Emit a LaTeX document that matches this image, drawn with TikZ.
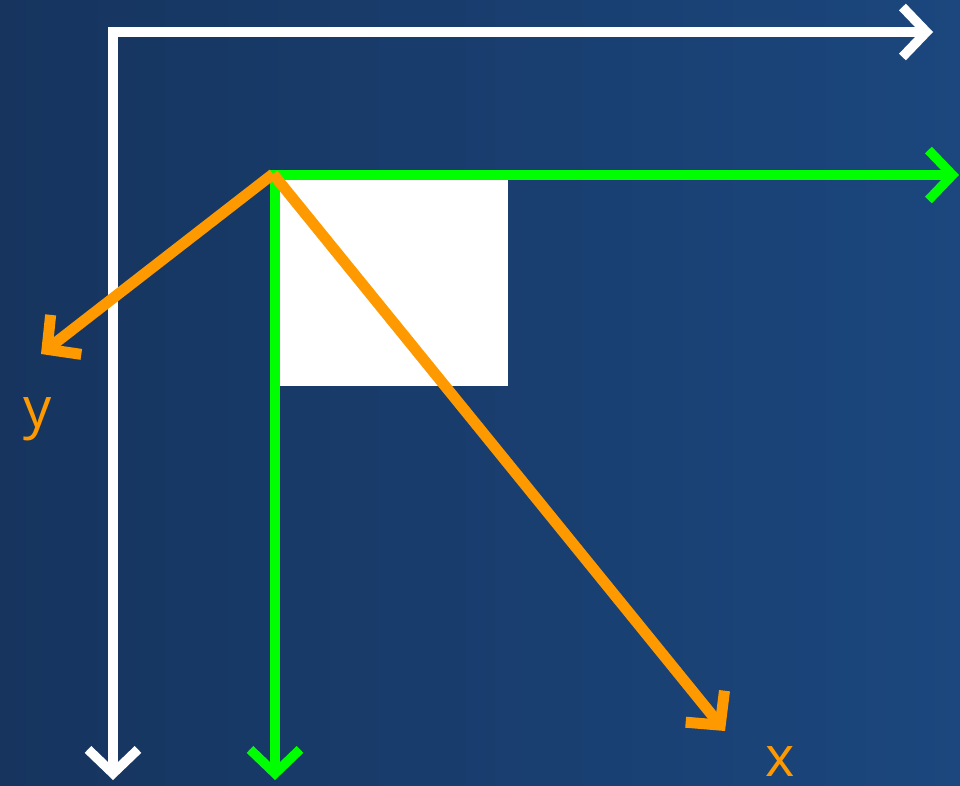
\documentclass[tikz,border=0pt]{standalone}
\usepackage{fontspec}
\setmainfont{Open Sans}
\usetikzlibrary{arrows.meta}
\definecolor{bgA}{HTML}{16345E}
\definecolor{bgB}{HTML}{1B477E}
\definecolor{axorange}{HTML}{FF9900}
\definecolor{axgreen}{HTML}{00FF00}
\tikzset{
  chev/.tip={Straight Barb[length=24pt,width=50pt,sharp]},
  axiswhite/.style={draw=white,line width=9.5pt,miter limit=10,{chev}-{chev}},
  axisgreen/.style={draw=axgreen,line width=9.5pt,miter limit=10,{chev}-{chev}},
  axisorange/.style={draw=axorange,line width=11pt,-{chev}},
  lbl/.style={text=axorange,font=\fontsize{56}{60}\selectfont,inner sep=0pt,anchor=base},
}
\begin{document}
\begin{tikzpicture}[x=1pt,y=-1pt]
\useasboundingbox (0,0) rectangle (960,785);
\shade[left color=bgA,right color=bgB] (0,0) rectangle (960,785);
% points
\coordinate (wx) at (933,32);
\coordinate (wo) at (113,32);
\coordinate (wy) at (113,780);
\coordinate (gx) at (959,175);
\coordinate (go) at (275,175);
\coordinate (gy) at (275,780);
\coordinate (oo) at (273,174);
\coordinate (oy) at (41,354);
\coordinate (ox) at (725,731);
% white square
\fill[white] (go) rectangle (508,386);
% white axes
\draw[axiswhite] (wx) -- (wo) -- (wy);
% green axes
\draw[axisgreen] (gx) -- (go) -- (gy);
% orange axes
\draw[axisorange] (oo) -- (oy);
\draw[axisorange] (oo) -- (ox);
\node[lbl] (ly) at (38,427) {y};
\node[lbl] (lx) at (780,776) {x};
\end{tikzpicture}
\end{document}
